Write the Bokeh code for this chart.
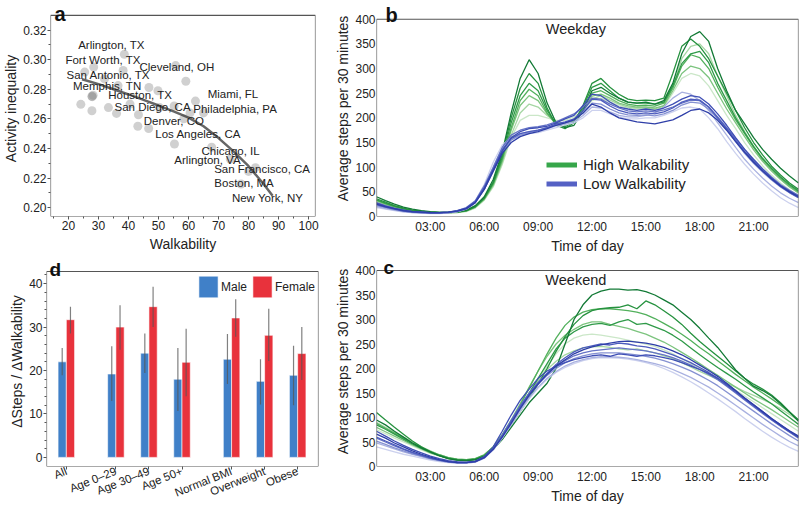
from bokeh.plotting import figure
from bokeh.layouts import row, column
from bokeh.models import (Range1d, FixedTicker, SingleIntervalTicker, Label, Legend,
                          LegendItem, PrintfTickFormatter, BoxAnnotation)
from bokeh.core.properties import value
from bokeh.embed import file_html
from bokeh.resources import INLINE

FONT = "Liberation Sans"
TXT = "#222222"
NAN = float("nan")

# ---------------- panel a data ----------------
walk = [38.6, 28.4, 25.4, 38.2, 55.7, 59.1, 46.8, 49.8, 27.8, 28.2, 24.1, 27.8, 33.3, 36.0,
        43.1, 46.7, 43.3, 50.3, 55.2, 62.3, 65.0, 58.4, 55.3, 67.7, 73.9, 80.0, 82.3, 77.5,
        36.5, 32.0, 40.5, 60.5, 27.9]
ineq = [0.3036, 0.2950, 0.2916, 0.2927, 0.2960, 0.2854, 0.2812, 0.2790, 0.2753, 0.2760,
        0.2698, 0.2655, 0.2676, 0.2637, 0.2550, 0.2535, 0.2628, 0.2676, 0.2687, 0.2720,
        0.2640, 0.2600, 0.2430, 0.2408, 0.2328, 0.2245, 0.2270, 0.2160, 0.2825, 0.2870,
        0.2700, 0.2640, 0.2750]
trend_x = [24.5, 30, 35, 40, 45, 50, 55, 60, 65, 70, 75, 80, 85, 88]
trend_y = [0.2868, 0.2835, 0.2800, 0.2765, 0.2728, 0.2690, 0.2650, 0.2608, 0.2550,
           0.2470, 0.2380, 0.2280, 0.2160, 0.2080]
city_names = ["Arlington, TX", "Fort Worth, TX", "Cleveland, OH", "San Antonio, TX",
              "Memphis, TN", "Houston, TX", "Miami, FL", "San Diego, CA", "Philadelphia, PA",
              "Denver, CO", "Los Angeles, CA", "Chicago, IL", "Arlington, VA",
              "San Francisco, CA", "Boston, MA", "New York, NY"]
city_x = [34.3, 31.5, 56.1, 33.3, 32.9, 43.9, 74.8, 48.0, 75.5, 55.1, 63.2, 74.0, 66.3,
          84.5, 78.5, 86.3]
city_y = [0.3102, 0.2999, 0.2953, 0.2898, 0.2824, 0.2763, 0.2767, 0.2680, 0.2664, 0.2588,
          0.2500, 0.2380, 0.2319, 0.2260, 0.2166, 0.2064]
a_ticks_y = [0.20, 0.22, 0.24, 0.26, 0.28, 0.30, 0.32]
a_minor_y = [0.21, 0.23, 0.25, 0.27, 0.29, 0.31]

# ---------------- panel d data ----------------
groups = ["All", "Age 0\u201329", "Age 30\u201349", "Age 50+", "Normal BMI", "Overweight", "Obese"]
group_pos = [0, 1.5, 2.5, 3.5, 5, 6, 7]
male = [22.0, 19.2, 24.0, 18.0, 22.6, 17.5, 18.9]
male_lo = [18.9, 13.0, 19.4, 10.7, 16.9, 12.2, 12.0]
male_hi = [25.2, 25.6, 28.5, 25.2, 28.4, 22.6, 25.7]
female = [31.7, 30.0, 34.7, 21.9, 32.1, 28.1, 23.9]
female_lo = [28.5, 24.8, 30.0, 14.1, 27.8, 22.2, 17.8]
female_hi = [34.7, 35.0, 39.3, 29.6, 36.4, 34.2, 30.0]
d_ticks_y = [0, 10, 20, 30, 40]
d_minor_y = [2, 4, 6, 8, 12, 14, 16, 18, 22, 24, 26, 28, 32, 34, 36, 38, 42]

# ---------------- panels b / c data ----------------
hours = [0, 0.5, 1, 1.5, 2, 2.5, 3, 3.5, 4, 4.5, 5, 5.5, 6, 6.5, 7, 7.5, 8, 8.5, 9, 9.5,
         10, 10.5, 11, 11.5, 12, 12.5, 13, 13.5, 14, 14.5, 15, 15.5, 16, 16.5, 17, 17.5,
         18, 18.5, 19, 19.5, 20, 20.5, 21, 21.5, 22, 22.5, 23, 23.5]
time_ticks = [3, 6, 9, 12, 15, 18, 21]
time_labels = ["03:00", "06:00", "09:00", "12:00", "15:00", "18:00", "21:00"]
steps_ticks = [0, 50, 100, 150, 200, 250, 300, 350, 400]

wd_high = [
    [40,32,25,19,15,12,10,9,9,10,13,22,40,75,130,210,280,318,290,230,190,180,185,215,255,262,250,240,232,230,232,228,235,270,330,365,375,355,300,255,215,188,160,136,116,98,82,68],
    [36,29,22,17,13,11,9,8,8,9,12,20,38,70,125,200,260,290,270,220,185,178,190,225,270,280,262,248,238,235,236,235,240,290,345,360,345,320,285,250,215,180,150,125,102,84,68,55],
    [34,27,21,16,12,10,9,8,8,9,12,20,37,68,120,190,245,270,255,215,188,182,192,222,262,270,255,240,232,230,230,228,232,265,310,330,335,312,270,235,200,170,142,118,98,80,65,52],
    [33,26,20,15,12,10,8,8,8,9,12,19,36,66,115,180,235,258,245,210,186,185,195,220,250,255,245,235,228,225,226,224,230,260,305,328,322,300,262,228,196,168,140,116,96,78,63,50],
    [32,25,19,15,11,9,8,7,8,9,11,19,35,64,112,175,225,245,235,208,190,188,196,218,244,248,240,230,225,222,222,220,225,255,290,305,300,282,250,218,190,162,135,112,92,75,60,48],
    [30,24,18,14,11,9,8,7,7,8,11,18,34,62,108,165,210,228,222,205,192,190,198,215,238,245,236,228,222,220,220,218,224,262,320,345,350,330,285,245,205,172,142,116,94,76,61,47],
    [28,22,17,13,10,8,7,7,7,8,10,17,33,60,105,160,195,205,205,200,195,195,202,215,235,240,232,225,220,218,218,216,222,250,280,290,285,265,235,205,178,150,125,103,84,68,54,42],
]
wd_low = [
    [25,20,16,12,10,9,8,8,9,11,16,28,55,92,128,150,162,168,172,178,185,190,196,210,228,222,210,200,196,192,190,188,192,196,205,215,218,210,195,175,152,130,110,92,76,62,50,40],
    [27,21,16,13,10,9,8,8,9,12,17,30,58,95,132,160,172,178,180,183,190,198,205,225,248,245,232,222,218,215,218,215,220,228,238,245,242,228,208,185,160,136,115,96,78,63,51,41],
    [24,19,15,11,9,8,7,7,8,11,16,29,56,95,135,158,168,172,175,180,188,192,198,215,238,236,224,215,210,208,210,208,212,220,232,238,236,222,200,178,155,132,112,93,76,61,49,38],
    [28,22,17,13,10,9,8,8,9,12,18,32,62,100,140,165,175,180,182,186,192,200,208,222,240,238,228,220,214,212,214,212,216,222,230,236,235,222,202,180,158,136,116,97,80,65,53,43],
    [22,18,14,11,9,8,7,7,8,10,15,28,55,92,130,155,165,170,174,180,186,190,196,210,230,228,218,210,206,205,206,204,208,215,226,232,230,218,198,175,152,128,108,90,74,60,48,38],
    [20,16,13,10,8,7,7,7,8,10,15,28,56,100,138,160,168,172,175,178,184,188,192,205,222,220,212,205,202,202,205,210,222,240,252,248,235,215,190,165,140,116,96,78,62,48,37,28],
    [18,15,12,9,8,7,6,6,7,10,16,32,65,110,145,160,165,168,170,175,180,186,190,200,215,215,208,202,198,198,200,200,205,212,220,222,218,200,178,152,128,106,86,68,52,38,27,18],
]
we_high = [
    [95,85,72,60,48,38,30,22,16,13,12,14,20,35,55,80,105,130,150,170,200,250,300,330,350,358,362,362,360,361,357,350,340,330,315,300,282,262,243,220,197,180,164,155,144,128,111,92],
    [110,95,80,66,52,40,30,22,16,13,12,14,20,35,58,85,112,140,168,200,235,265,290,308,318,322,324,325,330,322,338,330,318,305,290,272,255,240,225,210,195,180,168,158,146,130,112,95],
    [85,76,66,56,46,37,29,22,17,14,13,15,22,38,60,88,118,150,180,210,240,262,275,285,290,292,288,295,300,290,292,285,278,268,256,242,228,215,202,190,178,165,152,140,128,114,100,86],
    [88,78,68,58,48,39,31,24,18,15,14,16,24,40,64,92,125,160,195,230,262,288,305,315,320,322,322,320,318,315,310,302,292,282,270,257,243,230,216,202,188,175,162,150,138,125,110,95],
    [80,71,62,53,44,36,28,22,17,14,13,15,23,40,65,95,128,162,195,225,250,268,280,290,295,295,290,286,282,276,270,262,254,244,233,222,210,198,186,174,162,150,138,127,116,104,92,80],
    [90,80,70,60,50,40,32,24,18,15,14,16,24,40,64,92,122,150,175,198,215,228,236,242,244,245,243,240,238,240,236,232,226,220,212,203,194,186,178,170,162,153,145,137,128,118,106,94],
    [75,67,58,50,42,34,27,21,16,13,12,14,21,36,58,85,115,145,175,205,230,250,262,268,270,268,265,262,258,254,250,245,238,230,220,210,200,190,180,168,156,144,132,120,108,96,84,72],
]
we_low = [
    [66,58,48,40,32,25,19,14,10,8,8,10,18,35,60,88,118,145,168,188,205,218,230,238,244,248,252,255,256,254,252,248,243,236,228,218,207,196,184,170,155,140,126,112,98,85,73,62],
    [72,62,52,43,35,28,21,16,12,10,9,11,20,40,72,105,135,158,180,195,205,212,218,222,226,228,225,230,228,225,228,226,222,218,212,205,198,190,180,168,154,140,126,112,98,85,72,60],
    [60,52,44,36,29,23,17,13,10,8,8,10,18,36,62,92,122,148,170,190,208,222,234,242,246,250,248,252,250,246,244,240,234,228,220,212,202,192,180,166,152,138,124,110,96,83,71,60],
    [58,50,42,35,28,22,17,13,10,8,8,10,19,37,64,94,124,150,172,190,204,216,226,232,236,238,240,242,240,238,236,232,228,222,215,207,198,188,177,164,150,136,122,108,95,82,70,58],
    [52,45,38,32,26,21,16,12,9,8,8,10,18,35,60,90,120,146,168,186,200,212,220,226,230,232,232,232,230,228,225,221,216,210,203,195,186,176,165,152,139,126,113,100,87,75,63,52],
    [48,42,36,30,25,20,15,12,9,7,7,9,17,34,58,86,115,140,162,180,194,205,213,218,222,224,224,223,221,218,214,210,205,198,190,182,172,162,150,138,125,112,99,86,74,62,51,42],
    [40,35,30,25,21,17,13,10,8,7,7,9,17,34,58,85,112,138,160,178,192,202,210,216,220,222,222,221,219,216,212,207,200,192,183,173,162,150,138,125,112,98,85,72,60,49,39,31],
]
for arr in wd_high + wd_low + we_high + we_low:
    assert len(arr) == len(hours)

GREENS = ["#137a36", "#26923f", "#2f9a48", "#52b05c", "#7cc47e", "#a5d6a3", "#cbe7c8"]
BLUES = ["#2e3ea8", "#3f4fb5", "#4d5cbd", "#6573c6", "#8591d2", "#a9b1e0", "#ccd1ee"]


def style(p, box):
    # frame is extended upward to hold the panel letter; the visible box is drawn explicitly
    p.outline_line_color = None
    p.grid.visible = False
    p.background_fill_color = "white"
    p.border_fill_color = "white"
    l, r, b, t = box
    p.add_layout(BoxAnnotation(left=l, right=r, bottom=b, top=t, fill_alpha=0,
                               line_color="#555555", line_width=1.2, line_alpha=1))
    for ax in p.axis:
        ax.axis_line_color = None
        ax.major_label_text_font = FONT
        ax.major_label_text_font_size = "12px"
        ax.major_label_text_color = TXT
        ax.major_label_text_line_height = 1.0
        ax.major_label_standoff = 1
        ax.axis_label_text_font = FONT
        ax.axis_label_text_font_size = "14px"
        ax.axis_label_text_font_style = "normal"
        ax.axis_label_text_color = TXT
        ax.axis_label_text_line_height = 1.0
        ax.axis_label_standoff = 1
        ax.major_tick_line_color = "#555555"
        ax.minor_tick_line_color = "#555555"
        ax.major_tick_in = 0
        ax.minor_tick_in = 0
        ax.major_tick_out = 3
        ax.minor_tick_out = 2


def letter(p, txt, x, y, size="20px"):
    p.add_layout(Label(x=x, y=y, text=txt, text_font=FONT, text_font_style="bold",
                       text_font_size=size, text_color="#111111", text_baseline="alphabetic"))


# ---------------- panel a  (frame 44..315 x 0..219, box top at y=15) ----------------
pa = figure(width=332, height=256, x_range=Range1d(14, 102.3), y_range=Range1d(0.194, 0.340),
            output_backend="svg", toolbar_location=None,
            min_border_left=44, min_border_right=17, min_border_top=0, min_border_bottom=37)
style(pa, (14, 102.3, 0.194, 0.330))
pa.xaxis.ticker = SingleIntervalTicker(interval=10, num_minor_ticks=2)
pa.yaxis.ticker = FixedTicker(ticks=a_ticks_y, minor_ticks=a_minor_y)
pa.yaxis.formatter = PrintfTickFormatter(format="%.2f")
pa.xaxis.axis_label = "Walkability"
pa.xaxis.axis_label_standoff = 3
pa.yaxis.axis_label = "Activity inequality"
pa.scatter(walk, ineq, size=9, fill_color="#8a8a8a", fill_alpha=0.4, line_color=None)
pa.line(trend_x, trend_y, line_color="#333333", line_width=2.5, line_alpha=0.75)
pa.text(x=city_x, y=city_y, text=city_names, text_font=value(FONT), text_font_size="11.5px",
        text_align="center", text_baseline="middle", text_color=TXT)
letter(pa, "a", 15.3, 0.3307)


# ---------------- panel b / c ----------------
def time_panel(title_txt, high, low, height, ytop, bottom, legend=False):
    p = figure(width=468, height=height, x_range=Range1d(0, 23.5), y_range=Range1d(0, ytop),
               output_backend="svg", toolbar_location=None,
               min_border_left=44, min_border_right=2, min_border_top=0,
               min_border_bottom=bottom)
    style(p, (0, 23.5, 0, 400))
    p.xaxis.ticker = FixedTicker(ticks=time_ticks)
    p.xaxis.major_label_overrides = {t: l for t, l in zip(time_ticks, time_labels)}
    p.yaxis.ticker = FixedTicker(ticks=steps_ticks)
    for ax in p.axis:
        ax.major_tick_out = 0
        ax.minor_tick_out = 0
    p.xaxis.major_label_standoff = 3
    p.xaxis.axis_label = "Time of day"
    p.yaxis.axis_label = "Average steps per 30 minutes"
    for i in range(len(high) - 1, -1, -1):
        p.line(hours, high[i], line_color=GREENS[i], line_width=1.3)
    for i in range(len(low) - 1, -1, -1):
        p.line(hours, low[i], line_color=BLUES[i], line_width=1.3)
    p.add_layout(Label(x=11.1, y=380, text=title_txt, text_font=FONT, text_font_size="14.5px",
                       text_color=TXT, text_align="center", text_baseline="middle"))
    if legend:
        rh = p.line([NAN], [NAN], line_color="#36a64a", line_width=5)
        rl = p.line([NAN], [NAN], line_color="#5561c4", line_width=5)
        lg = Legend(items=[LegendItem(label="High Walkability", renderers=[rh]),
                           LegendItem(label="Low Walkability", renderers=[rl])],
                    location=(170, 23), padding=0, margin=0, spacing=0,
                    glyph_width=31, glyph_height=19, label_height=19, label_standoff=6,
                    border_line_color=None, background_fill_alpha=0,
                    label_text_font=FONT, label_text_font_size="15px", label_text_color=TXT)
        p.add_layout(lg)
    return p


# b: frame 376..798 x 0..219, box top at y=19
pb = time_panel("Weekday", wd_high, wd_low, 256, 438, 37, legend=True)
letter(pb, "b", 0.5, 408)
# c: frame 376..798 x 256..466, box top at y=270
pc = time_panel("Weekend", we_high, we_low, 254, 428.6, 44)
letter(pc, "c", 0.39, 406.2, "19px")

# ---------------- panel d  (frame 46..318 x 256..466, box top at y=271) ----------------
pd = figure(width=332, height=254, x_range=Range1d(-0.6, 7.63), y_range=Range1d(-2.1, 46.25),
            output_backend="svg", toolbar_location=None,
            min_border_left=46, min_border_right=14, min_border_top=0, min_border_bottom=44)
style(pd, (-0.6, 7.63, -2.1, 42.8))
pd.yaxis.ticker = FixedTicker(ticks=d_ticks_y, minor_ticks=d_minor_y)
pd.xaxis.ticker = FixedTicker(ticks=group_pos)
pd.xaxis.major_label_overrides = {p_: g for p_, g in zip(group_pos, groups)}
pd.xaxis.major_label_orientation = 0.38
pd.xaxis.major_label_text_font_size = "11.5px"
pd.xaxis.major_label_standoff = 1
pd.xaxis.major_tick_out = 3
pd.yaxis.axis_label = "\u0394Steps / \u0394Walkability"
mx = [g - 0.125 for g in group_pos]
fx = [g + 0.125 for g in group_pos]
rm = pd.vbar(x=mx, top=male, bottom=0, width=0.25, fill_color="#4080c8", line_color="white",
             line_width=0.6)
rf = pd.vbar(x=fx, top=female, bottom=0, width=0.25, fill_color="#e8323c", line_color="white",
             line_width=0.6)
pd.segment(x0=mx, y0=male_lo, x1=mx, y1=male_hi, line_color="#555555", line_width=1.2,
           line_alpha=0.75)
pd.segment(x0=fx, y0=female_lo, x1=fx, y1=female_hi, line_color="#555555", line_width=1.2,
           line_alpha=0.75)
lgd = Legend(items=[LegendItem(label="Male", renderers=[rm]),
                    LegendItem(label="Female", renderers=[rf])],
             orientation="horizontal", location=(150, 166), padding=0, margin=0, spacing=3,
             glyph_width=24, glyph_height=27, label_standoff=1,
             border_line_color=None, background_fill_alpha=0,
             label_text_font=FONT, label_text_font_size="12px", label_text_color=TXT)
pd.add_layout(lgd)
letter(pd, "d", -0.51, 43.26, "19px")

layout = column(row(pa, pb), row(pd, pc),
                styles={"position": "absolute", "top": "0px", "left": "0px"})
open("out.html", "w").write(file_html(layout, INLINE))
